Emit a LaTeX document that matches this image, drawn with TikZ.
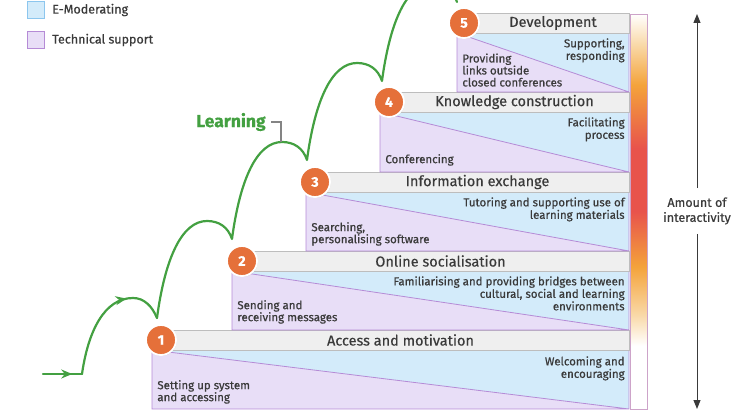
\documentclass[tikz,border=0pt]{standalone}
\usepackage{fontspec}
\setmainfont{Fira Sans}[FakeBold=0.6]
\newfontfamily\headfont{Fira Sans}[FakeBold=0.4]
\usetikzlibrary{arrows.meta,decorations.markings,shadows,positioning,calc}

\definecolor{techfill}{HTML}{E8DEF7}
\definecolor{techline}{HTML}{B58BD6}
\definecolor{modfill}{HTML}{D3EBFA}
\definecolor{modline}{HTML}{8CC6EE}
\definecolor{barfill}{HTML}{EFEFEF}
\definecolor{barline}{HTML}{BDBDBD}
\definecolor{stepor}{HTML}{E5703A}
\definecolor{inkgray}{HTML}{3A3A3A}
\definecolor{learngreen}{HTML}{43A041}
\definecolor{gradpale}{HTML}{F9D8A6}
\definecolor{gradorange}{HTML}{F4A33B}
\definecolor{gradred}{HTML}{E8534C}
\definecolor{gradline}{HTML}{CDA3C9}

\pgfdeclareverticalshading{interactivity}{100bp}{color(0bp)=(white); color(33bp)=(white);
  color(37bp)=(gradpale); color(43bp)=(gradorange); color(50bp)=(gradred);
  color(58bp)=(gradred); color(66bp)=(gradorange); color(71bp)=(gradpale);
  color(75bp)=(white); color(100bp)=(white)}

\tikzset{
  every picture/.style={line width=0.75pt},
  stepnum/.style={circle, fill=stepor, draw=white, line width=1.8pt, minimum size=30pt,
    inner sep=0pt, text=white, font=\fontsize{14}{14}\selectfont\bfseries,
    drop shadow={opacity=0.25, shadow xshift=0.6pt, shadow yshift=-0.9pt}},
  bartitle/.style={font=\headfont\fontsize{14.5}{16}\selectfont, text=inkgray, inner sep=0pt},
  bar/.style={fill=barfill, draw=barline, line width=0.7pt},
  paneledge/.style={draw=techline, line width=0.8pt},
  techtext/.style={font=\fontsize{11.5}{12}\selectfont, text=inkgray, inner sep=0pt,
    align=left, anchor=south west},
  modtext/.style={font=\fontsize{11.5}{12.5}\selectfont, text=inkgray, inner sep=0pt,
    align=right, anchor=north east},
  legendbox/.style={minimum size=17pt, inner sep=0pt, line width=0.8pt},
  legendtext/.style={font=\fontsize{12.5}{14}\selectfont, text=inkgray, inner sep=0pt},
  learnpath/.style={color=learngreen, line width=2.2pt, line cap=round, line join=round},
  midarrow/.style={postaction={decorate}, decoration={markings,
    mark=at position #1 with {\arrow{Stealth[length=11pt,width=9pt]}}}},
  interarrow/.style={draw=inkgray, line width=1pt, -{Triangle[length=9pt,width=7pt]}}
}

\begin{document}
\begin{tikzpicture}[x=1pt,y=-1pt]
    \useasboundingbox (0,0) rectangle (750,420);

    % legend
    \node[legendbox, fill=modfill, draw=modline] (modkey) at (36,10) {};
    \node[legendtext, right=7pt of modkey] (modlabel) {E-Moderating};
    \node[legendbox, fill=techfill, draw=techline] (techkey) at (36,40) {};
    \node[legendtext, right=7pt of techkey] (techlabel) {Technical support};

    % stage 1
    \fill[techfill] (152,350) rectangle (629,409);
    \fill[modfill] (152,350) -- (629,350) -- (629,409) -- cycle;
    \draw[paneledge] (152,350) -- (629,409) (152,350) rectangle (629,409);
    \draw[bar] (152,330) rectangle (629,350);
    \node[bartitle] (title1) at (400.5,340) {Access and motivation};
    \node[techtext] (tech1) at (157,404) {Setting up system\\and accessing};
    \node[modtext] (mod1) at (625,356) {Welcoming and\\encouraging};

    % stage 2
    \fill[techfill] (232,271) rectangle (629,330);
    \fill[modfill] (232,271) -- (629,271) -- (629,330) -- cycle;
    \draw[paneledge] (232,271) -- (629,330) (232,271) rectangle (629,330);
    \draw[bar] (232,251) rectangle (629,271);
    \node[bartitle] (title2) at (440.5,261) {Online socialisation};
    \node[techtext] (tech2) at (237,324) {Sending and\\receiving messages};
    \node[modtext] (mod2) at (625,276) {Familiarising and providing bridges between\\cultural, social and learning\\environments};

    % stage 3
    \fill[techfill] (306,192) rectangle (629,251);
    \fill[modfill] (306,192) -- (629,192) -- (629,251) -- cycle;
    \draw[paneledge] (306,192) -- (629,251) (306,192) rectangle (629,251);
    \draw[bar] (306,172) rectangle (629,192);
    \node[bartitle] (title3) at (477.5,182) {Information exchange};
    \node[techtext] (tech3) at (311,246) {Searching,\\personalising software};
    \node[modtext] (mod3) at (625,197) {Tutoring and supporting use of\\learning materials};

    % stage 4
    \fill[techfill] (380,112) rectangle (629,172);
    \fill[modfill] (380,112) -- (629,112) -- (629,172) -- cycle;
    \draw[paneledge] (380,112) -- (629,172) (380,112) rectangle (629,172);
    \draw[bar] (380,92) rectangle (629,112);
    \node[bartitle] (title4) at (514.5,102) {Knowledge construction};
    \node[techtext] (tech4) at (385,166) {Conferencing};
    \node[modtext] (mod4) at (625,117) {Facilitating\\process};

    % stage 5
    \fill[techfill] (457,33) rectangle (629,92);
    \fill[modfill] (457,33) -- (629,33) -- (629,92) -- cycle;
    \draw[paneledge] (457,33) -- (629,92) (457,33) rectangle (629,92);
    \draw[bar] (457,13) rectangle (629,33);
    \node[bartitle] (title5) at (553,23) {Development};
    \node[techtext] (tech5) at (462,87) {Providing\\links outside\\closed conferences};
    \node[modtext] (mod5) at (625,38) {Supporting,\\responding};

    % numbered stages
    \node[stepnum] (num1) at (161,340) {1};
    \node[stepnum] (num2) at (242,261) {2};
    \node[stepnum] (num3) at (315,182) {3};
    \node[stepnum] (num4) at (389,102) {4};
    \node[stepnum] (num5) at (464,23) {5};

    % interactivity scale
    \shade[shading=interactivity] (630,14) rectangle (647,409);
    \draw[gradline, line width=0.8pt] (630,14) rectangle (647,409);
    \coordinate (scaletop) at (697,14);
    \coordinate (scalebot) at (697,409);
    \node[font=\fontsize{12.5}{15}\selectfont, text=inkgray, align=center,
          inner xsep=2pt, inner ysep=9pt] (amount) at (697,211) {Amount of\\interactivity};
    \draw[interarrow] (amount) -- (scaletop);
    \draw[interarrow] (amount) -- (scalebot);

    % learning path
    \coordinate (pathstart) at (43,374);
    \coordinate (pathcorner) at (82,374);
    \draw[learnpath, midarrow=0.75] (pathstart) -- (pathcorner);
    \draw[learnpath, midarrow=0.7] (pathcorner) .. controls (88,332) and (104,298) .. (133,298)
        .. controls (144,298) and (152,306) .. (157,318);
    \draw[learnpath] (157,318) .. controls (165,258) and (182,221) .. (207,221)
        .. controls (219,221) and (228,227) .. (232,239)
        .. controls (240,179) and (257,142) .. (282,142)
        .. controls (294,142) and (303,148) .. (307,160)
        .. controls (315,100) and (332,63) .. (357,63)
        .. controls (369,63) and (378,69) .. (382,81)
        .. controls (390,21) and (407,-16) .. (432,-16)
        .. controls (444,-16) and (453,-10) .. (457,2);

    % learning label
    \node[font=\fontsize{17.5}{19}\selectfont\bfseries, text=learngreen, inner sep=0pt,
          anchor=east] (learn) at (266,122) {Learning};
    \coordinate (learnpeak) at (281,142);
    \draw[barline!70!black, line width=1.1pt] ([xshift=5pt]learn.east) -| (learnpeak);
\end{tikzpicture}
\end{document}
